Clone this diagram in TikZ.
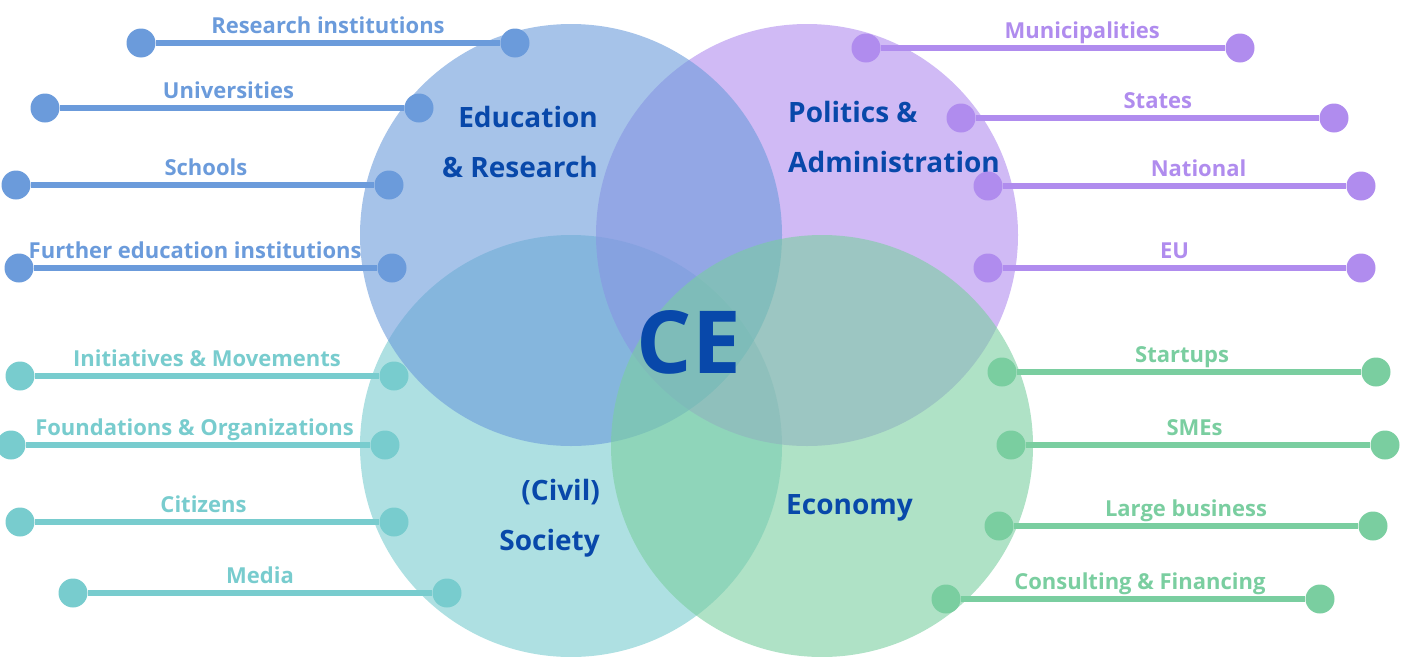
\documentclass[tikz,border=0pt]{standalone}
\usepackage{fontspec}
\setmainfont{Open Sans}
\usetikzlibrary{positioning}
\definecolor{edublue}{RGB}{107,155,219}
\definecolor{polpurple}{RGB}{176,140,238}
\definecolor{civteal}{RGB}{120,204,206}
\definecolor{ecogreen}{RGB}{122,206,160}
\definecolor{titleblue}{RGB}{8,72,170}
\tikzset{venn/.style={circle, minimum size=422pt, inner sep=0pt, fill=#1, fill opacity=0.6},
         enddot/.style={circle, minimum size=29pt, inner sep=0pt, fill=#1},
         link/.style={line width=6pt, draw=#1},
         lbl/.style={anchor=base, yshift=10pt, inner sep=0pt, text=#1, font=\bfseries\fontsize{22}{26}\selectfont},
         sectortitle/.style={text=titleblue, inner sep=0pt, font=\bfseries\fontsize{28}{50}\selectfont}
        }
\begin{document}
\begin{tikzpicture}[x=1pt, y=-1pt]
\useasboundingbox (0,0) rectangle (1421,656);
% the four fields
\node[venn=civteal](civ) at (571,446){};
\node[venn=polpurple](pol) at (807,235){};
\node[venn=edublue](edu) at (571,235){};
\node[venn=ecogreen](eco) at (822,446){};

\node[sectortitle, align=right, anchor=base east](edut) at (598,177){Education\\\& Research};
\node[sectortitle, align=left, anchor=base west](polt) at (788,172){Politics \&\\Administration};
\node[sectortitle, align=right, anchor=base east](civt) at (600,550){(Civil)\\Society};
\node[sectortitle, anchor=base west](ecot) at (786,514){Economy};
\node[text=titleblue, inner sep=0pt, anchor=base, font=\bfseries\fontsize{87}{90}\selectfont](ce) at (689,373){CE};

% education & research
\node[enddot=edublue](resA) at (141,43){};
\node[enddot=edublue](resB) at (515,43){};
\node[enddot=edublue](uniA) at (45,108){};
\node[enddot=edublue](uniB) at (419,108){};
\node[enddot=edublue](schA) at (16,185){};
\node[enddot=edublue](schB) at (389,185){};
\node[enddot=edublue](furA) at (19,268){};
\node[enddot=edublue](furB) at (392,268){};
\draw[link=edublue] (resA) -- node[lbl=edublue, pos=0.5]{Research institutions} (resB);
\draw[link=edublue] (uniA) -- node[lbl=edublue, pos=0.49]{Universities} (uniB);
\draw[link=edublue] (schA) -- node[lbl=edublue, pos=0.51]{Schools} (schB);
\draw[link=edublue] (furA) -- node[lbl=edublue, pos=0.47]{Further education institutions} (furB);

% politics & administration
\node[enddot=polpurple](munA) at (866,48){};
\node[enddot=polpurple](munB) at (1240,48){};
\node[enddot=polpurple](staA) at (961,118){};
\node[enddot=polpurple](staB) at (1334,118){};
\node[enddot=polpurple](natA) at (988,186){};
\node[enddot=polpurple](natB) at (1361,186){};
\node[enddot=polpurple](euA) at (988,268){};
\node[enddot=polpurple](euB) at (1361,268){};
\draw[link=polpurple] (munA) -- node[lbl=polpurple, pos=0.585]{Municipalities} (munB);
\draw[link=polpurple] (staA) -- node[lbl=polpurple, pos=0.53]{States} (staB);
\draw[link=polpurple] (natA) -- node[lbl=polpurple, pos=0.57]{National} (natB);
\draw[link=polpurple] (euA) -- node[lbl=polpurple, pos=0.5]{EU} (euB);

% civil society
\node[enddot=civteal](iniA) at (20,376){};
\node[enddot=civteal](iniB) at (394,376){};
\node[enddot=civteal](fouA) at (11,445){};
\node[enddot=civteal](fouB) at (385,445){};
\node[enddot=civteal](citA) at (20,522){};
\node[enddot=civteal](citB) at (394,522){};
\node[enddot=civteal](medA) at (73,593){};
\node[enddot=civteal](medB) at (447,593){};
\draw[link=civteal] (iniA) -- node[lbl=civteal, pos=0.5]{Initiatives \& Movements} (iniB);
\draw[link=civteal] (fouA) -- node[lbl=civteal, pos=0.49]{Foundations \& Organizations} (fouB);
\draw[link=civteal] (citA) -- node[lbl=civteal, pos=0.49]{Citizens} (citB);
\draw[link=civteal] (medA) -- node[lbl=civteal, pos=0.5]{Media} (medB);

% economy
\node[enddot=ecogreen](stuA) at (1002,372){};
\node[enddot=ecogreen](stuB) at (1376,372){};
\node[enddot=ecogreen](smeA) at (1011,445){};
\node[enddot=ecogreen](smeB) at (1385,445){};
\node[enddot=ecogreen](larA) at (999,526){};
\node[enddot=ecogreen](larB) at (1373,526){};
\node[enddot=ecogreen](conA) at (946,599){};
\node[enddot=ecogreen](conB) at (1320,599){};
\draw[link=ecogreen] (stuA) -- node[lbl=ecogreen, pos=0.48]{Startups} (stuB);
\draw[link=ecogreen] (smeA) -- node[lbl=ecogreen, pos=0.49]{SMEs} (smeB);
\draw[link=ecogreen] (larA) -- node[lbl=ecogreen, pos=0.5]{Large business} (larB);
\draw[link=ecogreen] (conA) -- node[lbl=ecogreen, pos=0.52]{Consulting \& Financing} (conB);
\end{tikzpicture}
\end{document}
